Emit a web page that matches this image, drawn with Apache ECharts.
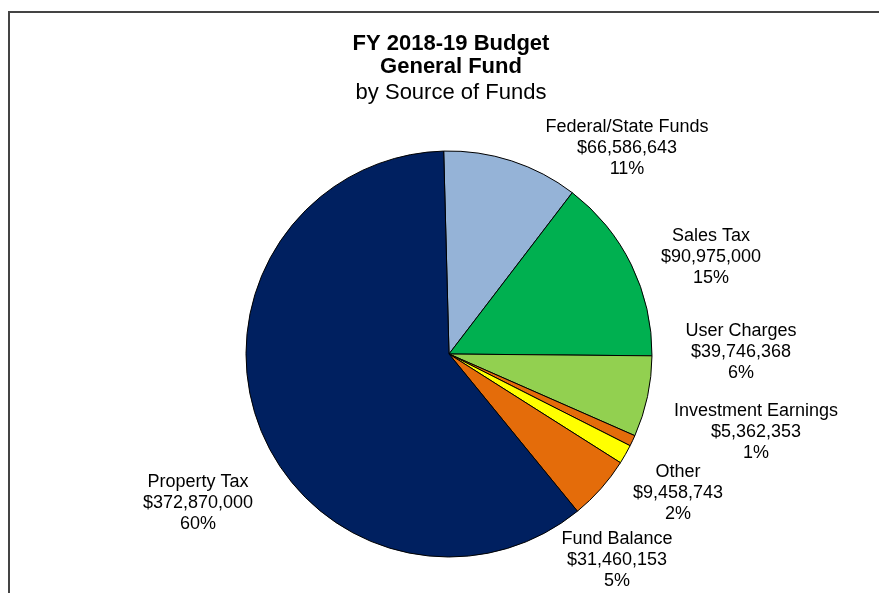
<!DOCTYPE html>
<html>
<head>
    <meta charset="utf-8">
    <title>FY 2018-19 Budget</title>
    <script src="https://cdn.jsdelivr.net/npm/echarts@6/dist/echarts.min.js"></script>
</head>
<body style="margin:0;background:#fff;">
<div id="main" style="width: 879px;height:593px;"></div>
<script type="text/javascript">
  // data, clockwise from 12 o'clock
  var sources = ['Federal/State Funds', 'Sales Tax', 'User Charges', 'Investment Earnings', 'Other', 'Fund Balance', 'Property Tax'];
  var amounts = [66586643, 90975000, 39746368, 5362353, 9458743, 31460153, 372870000];
  var colors = ['#95B3D7', '#00B050', '#92D050', '#E46C0A', '#FFFF00', '#E46C0A', '#002060'];
  // label centres (Excel places them by hand-ish)
  var labelPos = [[627, 148], [711, 257], [741, 352], [756, 432], [678, 493], [617, 560], [198, 503]];

  var total = amounts.reduce(function (a, b) { return a + b; }, 0);
  function money(v) {
    return '$' + String(v).replace(/\B(?=(\d{3})+(?!\d))/g, ',');
  }

  var myChart = echarts.init(document.getElementById('main'));

  var option = {
    backgroundColor: '#fff',
    animation: false,
    title: [
      { text: 'FY 2018-19 Budget', left: 446, top: 28, textAlign: 'center',
        textStyle: { fontFamily: 'Liberation Sans, Arial', fontSize: 22, fontWeight: 'bold', color: '#000' } },
      { text: 'General Fund', left: 446, top: 51, textAlign: 'center',
        textStyle: { fontFamily: 'Liberation Sans, Arial', fontSize: 22, fontWeight: 'bold', color: '#000' } },
      { text: 'by Source of Funds', left: 446, top: 77, textAlign: 'center',
        textStyle: { fontFamily: 'Liberation Sans, Arial', fontSize: 22, fontWeight: 'normal', color: '#000' } }
    ],
    graphic: [
      { type: 'line', shape: { x1: 9, y1: 12, x2: 9, y2: 593 }, style: { stroke: '#444', lineWidth: 2 } },
      { type: 'line', shape: { x1: 8, y1: 12, x2: 879, y2: 12 }, style: { stroke: '#444', lineWidth: 2 } }
    ],
    series: [{
      type: 'pie',
      center: [449, 354],
      radius: 203,
      startAngle: 91.5,
      clockwise: true,
      avoidLabelOverlap: false,
      itemStyle: { borderColor: '#000', borderWidth: 1 },
      emphasis: { disabled: true },
      label: {
        show: true,
        position: 'outside',
        fontFamily: 'Liberation Sans, Arial',
        fontSize: 18,
        lineHeight: 21,
        color: '#000',
        align: 'center',
        formatter: function (p) {
          return p.name + '\n' + money(p.value) + '\n' + Math.round(p.value / total * 100) + '%';
        }
      },
      labelLine: { show: false },
      labelLayout: function (p) {
        var pos = labelPos[p.dataIndex];
        return { x: pos[0], y: pos[1], align: 'center', verticalAlign: 'middle' };
      },
      data: sources.map(function (s, i) {
        return { name: s, value: amounts[i], itemStyle: { color: colors[i] } };
      })
    }]
  };
  myChart.setOption(option);
</script>
</body>
</html>
